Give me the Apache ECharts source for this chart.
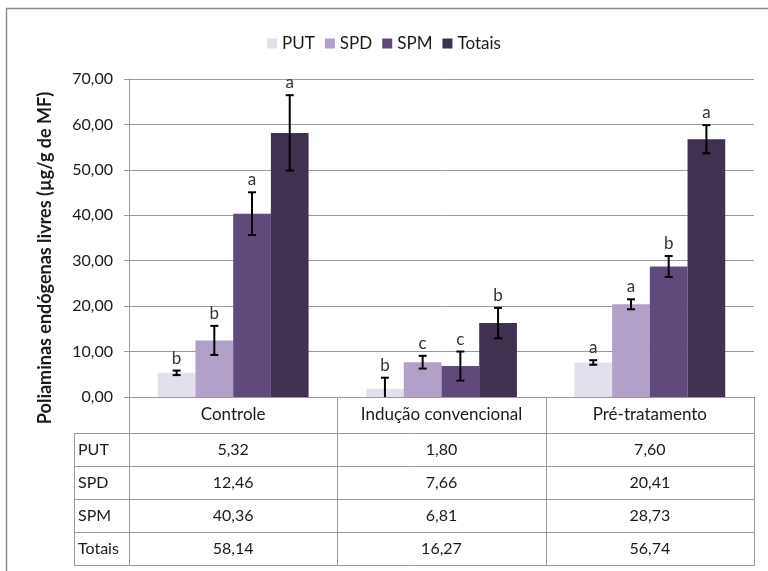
<!DOCTYPE html>
<html><head><meta charset="utf-8">
<script src="https://cdn.jsdelivr.net/npm/echarts@6/dist/echarts.min.js"></script>
<style>html,body{margin:0;padding:0;background:#fff;}#c{width:768px;height:571px;}</style>
</head><body><div id="c"></div>
<script>
const categories = ['Controle', 'Indução convencional', 'Pré-tratamento'];
const seriesNames = ['PUT', 'SPD', 'SPM', 'Totais'];
const putValues = [5.32, 1.80, 7.60];
const spdValues = [12.46, 7.66, 20.41];
const spmValues = [40.36, 6.81, 28.73];
const totValues = [58.14, 16.27, 56.74];
const putErr = [0.5, 2.45, 0.5];
const spdErr = [3.2, 1.4, 1.1];
const spmErr = [4.7, 3.2, 2.3];
const totErr = [8.3, 3.35, 3.1];
const putLetters = ['b', 'b', 'a'];
const spdLetters = ['b', 'c', 'a'];
const spmLetters = ['a', 'c', 'b'];
const totLetters = ['a', 'b', 'a'];
const yMin = 0, yMax = 70, yStep = 10;
const yTitle = 'Poliaminas endógenas livres (µg/g de MF)';

const colors = ['#E4DFEC', '#B1A0C7', '#604A7B', '#403151'];
const FONT = 'Lato';
const TXT = '#1a1a1a';
const allValues = [putValues, spdValues, spmValues, totValues];
const allErr = [putErr, spdErr, spmErr, totErr];
const allLetters = [putLetters, spdLetters, spmLetters, totLetters];

const G = {left: 129, right: 14, top: 79, bottom: 174};
const catGap = 0.276;

const fmt = v => v.toFixed(2).replace('.', ',');

const errData = [];
const errLetters = [];
for (let s = 0; s < 4; s++) {
  for (let c = 0; c < categories.length; c++) {
    errData.push([c, allValues[s][c], allErr[s][c], s]);
    errLetters.push(allLetters[s][c]);
  }
}

const chart = echarts.init(document.getElementById('c'), null, {renderer: 'canvas'});

const series = seriesNames.map((n, s) => ({
  name: n, type: 'bar', data: allValues[s],
  barGap: '0%', barCategoryGap: (catGap * 100) + '%',
  itemStyle: {color: colors[s]}, z: 2
}));

series.push({
  type: 'custom', name: 'err', data: errData, encode: {x: 0, y: 1}, z: 5,
  silent: true,
  renderItem: function (params, api) {
    const c = api.value(0), v = api.value(1), e = api.value(2), s = api.value(3);
    const band = api.size([1, 0])[0];
    const barW = band * (1 - catGap) / 4;
    const cx = api.coord([c, 0])[0] + (s - 1.5) * barW;
    const hi = api.coord([c, v + e])[1];
    const lowV = Math.max(0, v - e);
    const lo = api.coord([c, lowV])[1];
    const cap = 4;
    const st = {stroke: '#000', lineWidth: 2};
    const ch = [
      {type: 'line', shape: {x1: cx, y1: hi, x2: cx, y2: lo}, style: st},
      {type: 'line', shape: {x1: cx - cap, y1: hi, x2: cx + cap, y2: hi}, style: st}
    ];
    if (v - e > 0) ch.push({type: 'line', shape: {x1: cx - cap, y1: lo, x2: cx + cap, y2: lo}, style: st});
    ch.push({type: 'text', style: {x: cx, y: hi - 4, text: errLetters[params.dataIndex], align: 'center', verticalAlign: 'bottom', font: '17px ' + FONT, fill: '#333'}});
    return {type: 'group', children: ch};
  }
});

// table graphics
const W = 768, H = 571;
const gl = G.left, gr = W - G.right, y0 = H - G.bottom;
const band = (gr - gl) / categories.length;
const hdrBottom = y0 + 36, rowH = 33, labelColLeft = 74;
const lineColor = '#9a9a9a';
const graphics = [];
graphics.push({type: 'rect', shape: {x: 6.5, y: 8.5, width: 1000, height: 1000}, style: {fill: null, stroke: '#8c8c8c', lineWidth: 1.5}, silent: true, z: 0});
graphics.push({type: 'text', x: 45, y: 258, rotation: Math.PI / 2, style: {x: 0, y: 0, text: yTitle, align: 'center', verticalAlign: 'middle', font: 'bold 18px ' + FONT, fill: TXT}, silent: true});
const tableBottom = hdrBottom + rowH * seriesNames.length;
for (let i = 0; i <= categories.length; i++) {
  const x = Math.round(gl + band * i) + 0.5;
  graphics.push({type: 'line', shape: {x1: x, y1: y0, x2: x, y2: tableBottom}, style: {stroke: lineColor, lineWidth: 1}, silent: true});
}
graphics.push({type: 'line', shape: {x1: labelColLeft + 0.5, y1: hdrBottom, x2: labelColLeft + 0.5, y2: tableBottom}, style: {stroke: lineColor, lineWidth: 1}, silent: true});
for (let r = 0; r <= seriesNames.length; r++) {
  const y = hdrBottom + rowH * r + 0.5;
  graphics.push({type: 'line', shape: {x1: labelColLeft, y1: y, x2: gr + 0.5, y2: y}, style: {stroke: lineColor, lineWidth: 1}, silent: true});
}
for (let r = 0; r < seriesNames.length; r++) {
  const ym = hdrBottom + rowH * r + rowH / 2;
  graphics.push({type: 'text', style: {x: labelColLeft + 4, y: ym, text: seriesNames[r], align: 'left', verticalAlign: 'middle', font: '16px ' + FONT, fill: TXT}, silent: true});
  for (let c = 0; c < categories.length; c++) {
    graphics.push({type: 'text', style: {x: gl + band * (c + 0.5), y: ym, text: fmt(allValues[r][c]), align: 'center', verticalAlign: 'middle', font: '16px ' + FONT, fill: TXT}, silent: true});
  }
}

chart.setOption({
  animation: false,
  backgroundColor: '#fff',
  textStyle: {fontFamily: FONT},
  legend: {
    data: seriesNames, top: 30, left: 'center',
    itemWidth: 10, itemHeight: 10, itemGap: 10, icon: 'rect',
    textStyle: {fontSize: 17, color: TXT, fontFamily: FONT}
  },
  grid: {left: G.left, right: G.right, top: G.top, bottom: G.bottom, containLabel: false},
  xAxis: {
    type: 'category', data: categories,
    axisLine: {lineStyle: {color: lineColor, width: 1}},
    axisTick: {show: false},
    axisLabel: {interval: 0, hideOverlap: false, fontSize: 17, color: TXT, margin: 9, fontFamily: FONT}
  },
  yAxis: {
    type: 'value', min: yMin, max: yMax, interval: yStep,
    axisLine: {show: true, lineStyle: {color: lineColor}},
    axisTick: {show: true, length: 5, lineStyle: {color: lineColor}},
    axisLabel: {formatter: v => fmt(v), fontSize: 16, color: TXT, margin: 16, fontFamily: FONT},
    splitLine: {lineStyle: {color: lineColor, width: 1}}
  },
  series: series,
  graphic: graphics
});
</script></body></html>
